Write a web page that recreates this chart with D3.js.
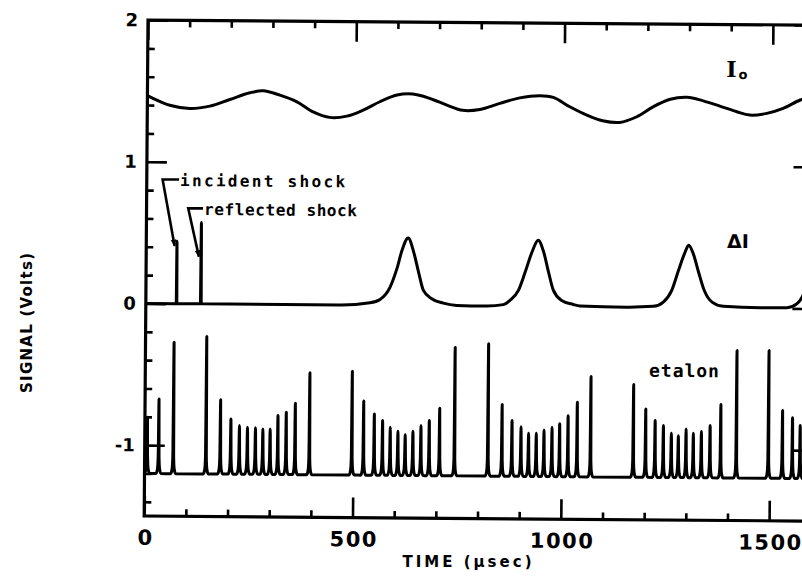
<!DOCTYPE html>
<html><head><meta charset="utf-8">
<script src="https://cdn.jsdelivr.net/npm/d3@7"></script>
<style>html,body{margin:0;padding:0;background:#fff}svg{display:block}</style>
</head><body>
<svg id="chart" width="802" height="577"></svg>
<script>
// ---------- data ----------
const timeTicks = [0, 500, 1000, 1500];
const timeTickLabels = ["0", "500", "1000", "1500"];
const signalTicks = [2, 1, 0, -1];
const signalTickLabels = ["2", "1", "0", "-1"];

// I0 (incident intensity) trace
const i0Time   = [0, 6, 54, 102, 150, 198, 246, 277, 318, 359, 398, 438, 479, 518, 558, 599, 637, 678, 719, 757, 798, 846, 894, 942, 974, 1014, 1055, 1093, 1134, 1175, 1214, 1255, 1295, 1334, 1374, 1415, 1446, 1487, 1526, 1567, 1600];
const i0Signal = [1.466, 1.458, 1.40, 1.378, 1.396, 1.444, 1.492, 1.507, 1.477, 1.431, 1.361, 1.323, 1.333, 1.376, 1.436, 1.484, 1.492, 1.462, 1.416, 1.38, 1.387, 1.431, 1.471, 1.487, 1.476, 1.411, 1.353, 1.314, 1.303, 1.344, 1.415, 1.469, 1.484, 1.46, 1.424, 1.385, 1.362, 1.375, 1.411, 1.471, 1.50];

// Delta I (absorption) trace
const dITime   = [0, 73, 73.7, 74.5, 131, 132, 133, 466, 538, 562, 586, 602, 614, 628.5, 642, 654, 666, 686, 714, 746, 818, 858, 874, 894, 910, 926, 940.7, 954, 966, 978, 998, 1026, 1042, 1154, 1218, 1242, 1262, 1278, 1292, 1302, 1313, 1326, 1340, 1359, 1386, 1475, 1539, 1563, 1575, 1590];
const dISignal = [0, 0, 0.44, 0, 0, 0.575, 0, 0, 0.017, 0.041, 0.129, 0.259, 0.389, 0.476, 0.377, 0.236, 0.107, 0.049, 0.018, 0.003, 0, 0.011, 0.041, 0.112, 0.242, 0.384, 0.467, 0.384, 0.243, 0.114, 0.044, 0.016, 0.006, 0, 0.007, 0.038, 0.121, 0.263, 0.381, 0.44, 0.381, 0.252, 0.123, 0.04, 0.011, 0.003, 0.005, 0.034, 0.08, 0.2];

// Etalon fringes: peak times and peak heights, baseline level
const etalonPeakTime   = [6, 33.5, 68.6, 147, 181.4, 206.4, 227, 246.3, 265.5, 283.3, 300.8, 319.3, 339.2, 360.8, 395.2, 497, 524.9, 550.6, 570.5, 589, 607.5, 625, 643.5, 662.7, 682.6, 707.4, 743.4, 823.6, 857.2, 881.2, 902.9, 921.1, 939.6, 958.1, 977.3, 995.6, 1015.7, 1037.6, 1070, 1172.5, 1202, 1224.7, 1244.6, 1263.8, 1280.6, 1299.1, 1316.6, 1335.9, 1356.7, 1382.2, 1419.9, 1496.8, 1530.4, 1554.4, 1572.9];
const etalonPeakSignal = [-0.803, -0.673, -0.272, -0.230, -0.676, -0.810, -0.857, -0.869, -0.872, -0.879, -0.879, -0.784, -0.760, -0.696, -0.481, -0.467, -0.677, -0.767, -0.814, -0.861, -0.889, -0.912, -0.888, -0.847, -0.811, -0.724, -0.292, -0.266, -0.694, -0.807, -0.849, -0.896, -0.895, -0.871, -0.852, -0.827, -0.770, -0.674, -0.491, -0.546, -0.717, -0.799, -0.834, -0.888, -0.904, -0.856, -0.887, -0.872, -0.831, -0.682, -0.300, -0.298, -0.721, -0.772, -0.826];
const etalonBaseline = -1.2;

// annotation anchors (data coordinates)
const annText   = ["incident shock", "reflected shock"];
const annTextT  = [80, 138];
const annTextV  = [0.83, 0.627];
const annCornerT = [38, 100];
const annCornerV = [0.876, 0.674];
const annTipT   = [68, 126.5];
const annTipV   = [0.407, 0.333];

// series labels (data coordinates)
const seriesLabel  = ["I", "\u0394I", "etalon"];
const seriesLabelT = [1389, 1394, 1209];
const seriesLabelV = [1.63, 0.423, -0.49];

// ---------- drawing ----------
const svg = d3.select("#chart");
const x = d3.scaleLinear().domain([0, 1600]).range([148, 814.6]);
const y = d3.scaleLinear().domain([-1.5, 2]).range([516, 20.05]);

svg.append("defs").append("clipPath").attr("id", "plotclip")
  .append("rect").attr("x", x(0)).attr("y", y(2))
  .attr("width", x(1600) - x(0)).attr("height", y(-1.5) - y(2));
svg.select("defs").append("marker").attr("id", "arrow")
  .attr("viewBox", "0 0 10 10").attr("refX", 9).attr("refY", 5)
  .attr("markerWidth", 7).attr("markerHeight", 7).attr("markerUnits", "userSpaceOnUse")
  .attr("orient", "auto")
  .append("path").attr("d", "M0,1 L10,5 L0,9 Z").attr("fill", "#000");

const g = svg.append("g").attr("transform", "rotate(0.44,148,20)");

const tickFont = "'DejaVu Sans', sans-serif";
function styleAxis(sel, size) {
  sel.select(".domain").remove();
  sel.selectAll(".tick line").attr("stroke", "#000").attr("stroke-width", 2.6);
  sel.selectAll("text").attr("fill", "#000").attr("font-family", tickFont)
    .attr("font-weight", "bold").attr("font-size", size);
}
const minorX = d3.range(0, 1601, 100).filter(v => v % 500 !== 0);
const minorY = d3.range(-1.4, 2.0, 0.2).map(v => +v.toFixed(1)).filter(v => Math.abs(v - Math.round(v)) > 1e-6);

// bottom axis
g.append("g").attr("transform", `translate(0,${y(-1.5)})`)
  .call(d3.axisBottom(x).tickValues(timeTicks).tickSize(-20).tickSizeOuter(0).tickPadding(14)
    .tickFormat((d, i) => timeTickLabels[i]))
  .call(s => styleAxis(s, 21))
  .call(s => s.selectAll("text").attr("letter-spacing", "1.5px").attr("dx", "1px"));
g.append("g").attr("transform", `translate(0,${y(-1.5)})`)
  .call(d3.axisBottom(x).tickValues(minorX).tickSize(-7).tickFormat(""))
  .call(s => styleAxis(s, 10));
// top axis
g.append("g").attr("transform", `translate(0,${y(2)})`)
  .call(d3.axisTop(x).tickValues(timeTicks).tickSize(-20).tickFormat(""))
  .call(s => styleAxis(s, 10));
g.append("g").attr("transform", `translate(0,${y(2)})`)
  .call(d3.axisTop(x).tickValues(minorX).tickSize(-7).tickFormat(""))
  .call(s => styleAxis(s, 10));
// left axis
g.append("g").attr("transform", `translate(${x(0)},0)`)
  .call(d3.axisLeft(y).tickValues(signalTicks).tickSize(-20).tickPadding(10)
    .tickFormat((d, i) => signalTickLabels[i]))
  .call(s => styleAxis(s, 18));
g.append("g").attr("transform", `translate(${x(0)},0)`)
  .call(d3.axisLeft(y).tickValues(minorY).tickSize(-7).tickFormat(""))
  .call(s => styleAxis(s, 10));
// right axis
g.append("g").attr("transform", `translate(${x(1600)},0)`)
  .call(d3.axisRight(y).tickValues(signalTicks).tickSize(-20).tickFormat(""))
  .call(s => styleAxis(s, 10));
g.append("g").attr("transform", `translate(${x(1600)},0)`)
  .call(d3.axisRight(y).tickValues(minorY).tickSize(-7).tickFormat(""))
  .call(s => styleAxis(s, 10));

// frame
g.append("rect").attr("x", x(0)).attr("y", y(2))
  .attr("width", x(1600) - x(0)).attr("height", y(-1.5) - y(2))
  .attr("fill", "none").attr("stroke", "#000").attr("stroke-width", 3.2);

const traces = g.append("g").attr("clip-path", "url(#plotclip)");
const traceStyle = sel => sel.attr("fill", "none").attr("stroke", "#000")
  .attr("stroke-width", 3).attr("stroke-linejoin", "round").attr("stroke-linecap", "round");

// I0
const i0Data = i0Time.map((t, i) => [t, i0Signal[i]]);
traces.append("path").datum(i0Data).call(traceStyle)
  .attr("d", d3.line().x(d => x(d[0])).y(d => y(d[1])).curve(d3.curveCatmullRom.alpha(0.5)));

// Delta I
const dIData = dITime.map((t, i) => [t, dISignal[i]]);
traces.append("path").datum(dIData).call(traceStyle)
  .attr("d", d3.line().x(d => x(d[0])).y(d => y(d[1])).curve(d3.curveMonotoneX));

// etalon: each fringe drawn as a narrow spike on the baseline
const spikeOffset = [-6, -2.5, -1, 0, 1, 2.5, 6];
const spikeLift   = [0, 0.035, 0.12, null, 0.12, 0.035, 0];
let etPts = [[-10, etalonBaseline]];
etalonPeakTime.forEach((t, i) => {
  spikeOffset.forEach((o, j) => {
    etPts.push([t + o, spikeLift[j] === null ? etalonPeakSignal[i] : etalonBaseline + spikeLift[j]]);
  });
});
etPts.push([1610, etalonBaseline]);
etPts.sort((a, b) => a[0] - b[0]);
traces.append("path").datum(etPts).call(traceStyle)
  .attr("d", d3.line().x(d => x(d[0])).y(d => y(d[1])).curve(d3.curveMonotoneX));

// annotations
const monoFont = "'DejaVu Sans Mono', monospace";
const annLen = [165, 153];
annText.forEach((txt, i) => {
  g.append("path")
    .attr("d", d3.line()([[x(annTextT[i]) - 1, y(annCornerV[i])], [x(annCornerT[i]), y(annCornerV[i])], [x(annTipT[i]), y(annTipV[i])]]))
    .attr("fill", "none").attr("stroke", "#000").attr("stroke-width", 2.6)
    .attr("stroke-linejoin", "miter").attr("marker-end", "url(#arrow)");
  g.append("text").attr("x", x(annTextT[i])).attr("y", y(annTextV[i]))
    .attr("font-family", monoFont).attr("font-weight", "bold").attr("font-size", 16)
    .attr("textLength", annLen[i]).attr("lengthAdjust", "spacing")
    .text(txt);
});

// series labels
const i0Lab = g.append("text").attr("x", x(seriesLabelT[0])).attr("y", y(seriesLabelV[0]))
  .attr("font-family", "'DejaVu Serif', serif").attr("font-weight", "bold").attr("font-size", 22);
i0Lab.append("tspan").text(seriesLabel[0]);
i0Lab.append("tspan").attr("font-size", 13).attr("dx", 2).attr("dy", 2)
  .attr("font-family", "'DejaVu Sans', sans-serif").text("o");
g.append("text").attr("x", x(seriesLabelT[1])).attr("y", y(seriesLabelV[1]))
  .attr("font-family", "'DejaVu Sans', sans-serif").attr("font-weight", "bold").attr("font-size", 19)
  .text(seriesLabel[1]);
g.append("text").attr("x", x(seriesLabelT[2])).attr("y", y(seriesLabelV[2]))
  .attr("font-family", monoFont).attr("font-weight", "bold").attr("font-size", 18)
  .attr("textLength", 70).attr("lengthAdjust", "spacing")
  .text(seriesLabel[2]);

// axis titles
svg.append("text").attr("x", 467).attr("y", 567).attr("text-anchor", "middle")
  .attr("font-family", tickFont).attr("font-weight", "bold").attr("font-size", 15)
  .attr("textLength", 129).attr("lengthAdjust", "spacing")
  .text("TIME (\u03bcsec)");
svg.append("text").attr("transform", "translate(32,323) rotate(-90)").attr("text-anchor", "middle")
  .attr("font-family", tickFont).attr("font-weight", "bold").attr("font-size", 15)
  .attr("textLength", 140).attr("lengthAdjust", "spacing")
  .text("SIGNAL (Volts)");
</script>
</body></html>
